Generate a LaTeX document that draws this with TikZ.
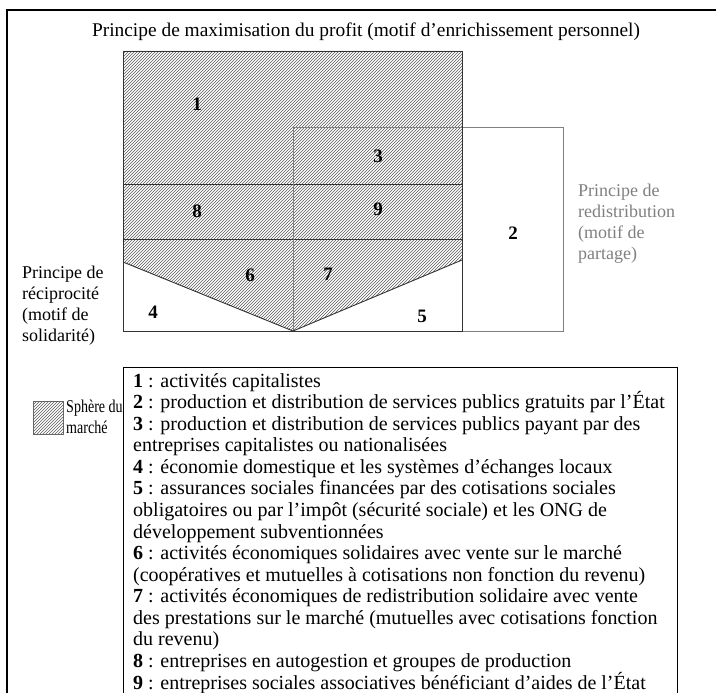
\documentclass[tikz,border=0pt]{standalone}
\usepackage{fontspec}
\setmainfont{Liberation Serif}
\newfontfamily\narrowserif[FakeStretch=0.78]{Liberation Serif}
\usetikzlibrary{patterns}
\begin{document}
\begin{tikzpicture}[x=1pt,y=-1pt,
  txt/.style={font=\fontsize{18}{21}\selectfont, inner sep=0pt},
  num/.style={font=\fontsize{19}{21}\selectfont\bfseries, inner sep=0pt},
  hatch/.style={pattern=north east lines, pattern color=black!65},
  mainline/.style={draw=black!80, line width=0.9pt},
  redis/.style={draw=black!50, line width=1pt},
  frameline/.style={draw=black, line width=1.5pt},
  legbox/.style={draw=black, line width=1pt},
  lefttxt/.style={txt, anchor=base west, align=left}]
\useasboundingbox (0,0) rectangle (716,693);
% outer frame (cut by the page at right and bottom)
\draw[frameline] (7,720) -- (7,10) -- (740,10);
% title
\node[txt, font=\fontsize{19.4}{21}\selectfont, anchor=base] (title) at (366,37) {Principe de maximisation du profit (motif d’enrichissement personnel)};
% hatched market sphere
\fill[hatch] (123,51) -- (462,51) -- (462,260) -- (293,331) -- (123,262) -- cycle;
\draw[mainline] (123,184) -- (462,184);
\draw[mainline] (123,239) -- (462,239);
\draw[redis] (293,128) rectangle (563,331);
\draw[mainline] (123,51) rectangle (462,331);
\draw[mainline] (123,262) -- (293,331) -- (462,260);
% numbers
\node[num] (n1) at (197,104) {1};
\node[num] (n3) at (378,156) {3};
\node[num] (n8) at (197,211) {8};
\node[num] (n9) at (378,209) {9};
\node[num] (n2) at (513,233) {2};
\node[num] (n6) at (250,275) {6};
\node[num] (n7) at (328,274) {7};
\node[num] (n4) at (153,312) {4};
\node[num] (n5) at (422,316) {5};
% side labels
\node[lefttxt] (recip) at (22,341) {Principe de\\réciprocité\\(motif de\\solidarité)};
\node[lefttxt, text=black!50] (redistr) at (578,259) {Principe de\\redistribution\\(motif de\\partage)};
% legend
\fill[hatch] (33,401) rectangle (63,434);
\draw[draw=black!60, line width=0.6pt] (33,401) rectangle (63,434);
\node[lefttxt, font=\narrowserif\fontsize{18}{21}\selectfont] (sphere) at (66,433) {Sphère du\\marché};
\draw[legbox] (123,720) -- (123,367) -- (677,367) -- (677,720);
\node[lefttxt, font=\fontsize{20}{21.57}\selectfont] (legtxt) at (133,689) {\textbf{1} : activités capitalistes\\
\textbf{2} : production et distribution de services publics gratuits par l’État\\
\textbf{3} : production et distribution de services publics payant par des\\
entreprises capitalistes ou nationalisées\\
\textbf{4} : économie domestique et les systèmes d’échanges locaux\\
\textbf{5} : assurances sociales financées par des cotisations sociales\\
obligatoires ou par l’impôt (sécurité sociale) et les ONG de\\
développement subventionnées\\
\textbf{6} : activités économiques solidaires avec vente sur le marché\\
(coopératives et mutuelles à cotisations non fonction du revenu)\\
\textbf{7} : activités économiques de redistribution solidaire avec vente\\
des prestations sur le marché (mutuelles avec cotisations fonction\\
du revenu)\\
\textbf{8} : entreprises en autogestion et groupes de production\\
\textbf{9} : entreprises sociales associatives bénéficiant d’aides de l’État};
\end{tikzpicture}
\end{document}
